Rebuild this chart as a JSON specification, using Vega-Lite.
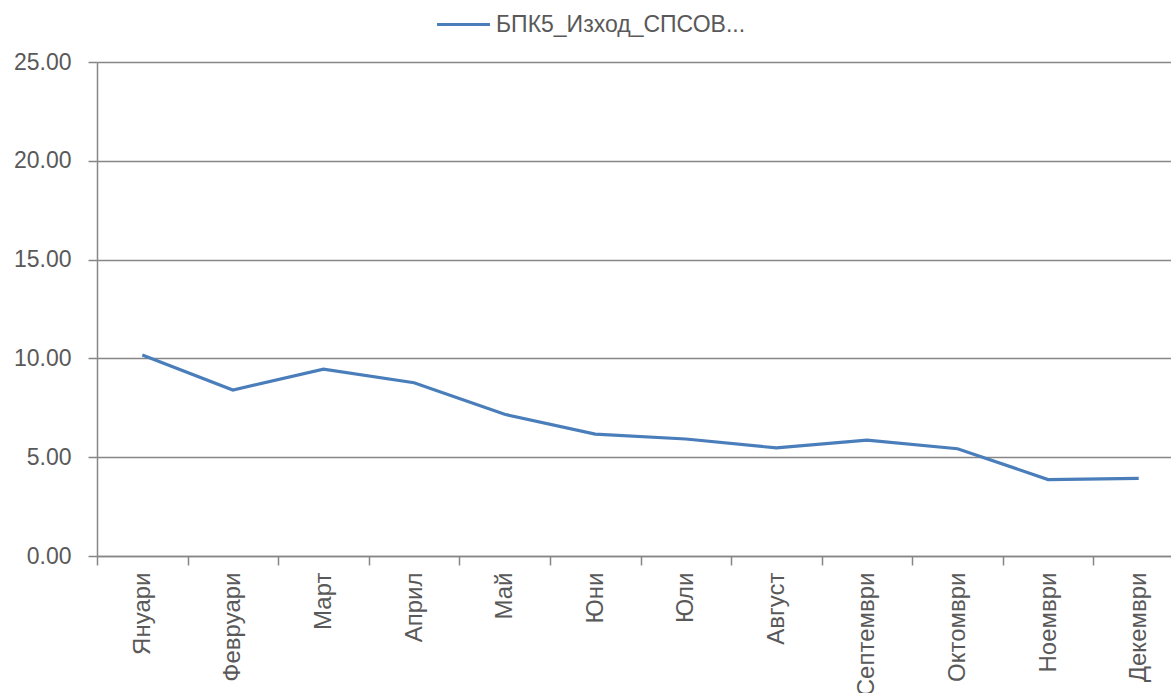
{
  "$schema": "https://vega.github.io/schema/vega-lite/v6.json",
  "width": 1074,
  "height": 494,
  "autosize": {"type": "none"},
  "padding": {"left": 97, "top": 62, "right": 0, "bottom": 137},
  "background": "white",
  "data": {
    "values": [
      {"month": "Януари", "value": 10.17, "series": "БПК5_Изход_СПСОВ..."},
      {"month": "Февруари", "value": 8.40, "series": "БПК5_Изход_СПСОВ..."},
      {"month": "Март", "value": 9.46, "series": "БПК5_Изход_СПСОВ..."},
      {"month": "Април", "value": 8.77, "series": "БПК5_Изход_СПСОВ..."},
      {"month": "Май", "value": 7.17, "series": "БПК5_Изход_СПСОВ..."},
      {"month": "Юни", "value": 6.17, "series": "БПК5_Изход_СПСОВ..."},
      {"month": "Юли", "value": 5.92, "series": "БПК5_Изход_СПСОВ..."},
      {"month": "Август", "value": 5.47, "series": "БПК5_Изход_СПСОВ..."},
      {"month": "Септември", "value": 5.86, "series": "БПК5_Изход_СПСОВ..."},
      {"month": "Октомври", "value": 5.43, "series": "БПК5_Изход_СПСОВ..."},
      {"month": "Ноември", "value": 3.87, "series": "БПК5_Изход_СПСОВ..."},
      {"month": "Декември", "value": 3.93, "series": "БПК5_Изход_СПСОВ..."}
    ]
  },
  "config": {
    "view": {"stroke": null},
    "font": "Liberation Sans",
    "axis": {
      "labelFont": "Liberation Sans",
      "labelColor": "#595959",
      "labelFontSize": 23,
      "domainColor": "#868686",
      "tickColor": "#868686",
      "gridColor": "#868686",
      "domainWidth": 1.5,
      "tickWidth": 1.5,
      "gridWidth": 1.5,
      "tickSize": 9,
      "title": null
    }
  },
  "mark": {"type": "line", "strokeWidth": 3.2, "interpolate": "linear"},
  "encoding": {
    "x": {
      "field": "month",
      "type": "nominal",
      "sort": null,
      "scale": {"type": "band", "paddingInner": 0, "paddingOuter": 0, "range": [0, 1087]},
      "axis": {
        "labelAngle": -90,
        "tickBand": "extent",
        "grid": false,
        "labelFontSize": 24,
        "labelPadding": 7,
        "labelBaseline": "middle",
        "labelAlign": "right",
        "labelOverlap": false,
        "labelLimit": 200
      }
    },
    "y": {
      "field": "value",
      "type": "quantitative",
      "scale": {"domain": [0, 25], "nice": false, "zero": true},
      "axis": {
        "values": [0, 5, 10, 15, 20, 25],
        "format": ".2f",
        "grid": true,
        "labelPadding": 17
      }
    },
    "color": {
      "field": "series",
      "type": "nominal",
      "scale": {"range": ["#4a7ebb"]},
      "legend": {
        "title": null,
        "orient": "none",
        "legendX": 338,
        "legendY": -66,
        "symbolType": "stroke",
        "symbolSize": 2800,
        "symbolStrokeWidth": 3.2,
        "labelFontSize": 23,
        "labelColor": "#595959",
        "labelFont": "Liberation Sans",
        "labelOffset": 4,
        "labelLimit": 400
      }
    }
  }
}
